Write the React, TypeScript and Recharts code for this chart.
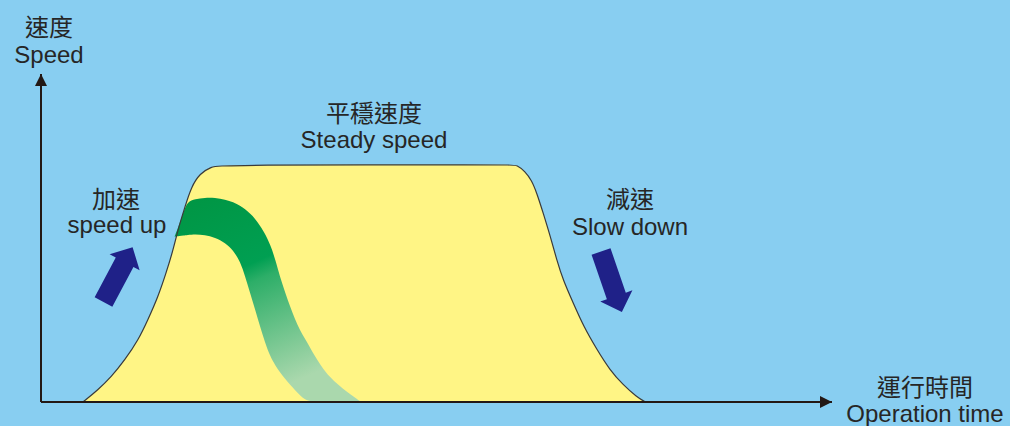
import { ComposedChart, Area, Line, XAxis, YAxis, ReferenceLine, ReferenceDot } from 'recharts'

const BG = '#88CEF1'
const YELLOW = '#FFF585'
const NAVY = '#1F2188'
const INK = '#231815'
const FONT = '"Liberation Sans", "Noto Sans CJK TC", sans-serif'

// speed profile: time (% of axis) -> speed (% of axis)
const profileTime = [5.3, 7.2, 8.9, 10.6, 12.3, 13.5, 14.8, 15.8, 16.7, 17.3, 18.2, 19.0, 20.1, 21.5, 22.8, 59.3, 60.2, 61.2, 62.0, 62.7, 63.5, 64.4, 65.2, 66.0, 67.3, 68.6, 70.3, 71.9, 73.6, 75.3, 76.4]
const profileSpeed = [0, 3.7, 7.7, 12.8, 18.9, 25.0, 32.1, 39.2, 46.3, 52.4, 59.5, 65.6, 69.7, 71.7, 72.3, 72.3, 72.3, 70.2, 67.7, 63.6, 57.5, 50.4, 43.3, 37.2, 30.1, 23.0, 15.9, 9.8, 5.2, 1.6, 0]

// green band (lower / upper edge)
const bandTime = [16.9, 17.5, 18.0, 18.5, 19.5, 20.7, 22.0, 23.3, 24.3, 25.2, 25.8, 26.4, 27.1, 27.7, 28.3, 29.0, 29.6, 30.2, 30.9, 31.5, 32.1, 32.7, 33.4, 34.4, 35.4, 36.5, 37.6, 38.7, 39.7, 40.3]
const bandLow = [50.4, 50.6, 50.8, 50.9, 51.2, 50.9, 50.2, 48.5, 46.3, 42.7, 38.4, 33.5, 28.0, 22.9, 18.3, 13.7, 11.3, 9.0, 7.0, 5.2, 3.7, 2.1, 0.6, 0, 0, 0, 0, 0, 0, 0]
const bandHigh = [50.5, 54.3, 57.9, 61.1, 61.9, 62.3, 62.3, 61.7, 61.0, 59.8, 58.8, 57.5, 55.8, 53.7, 51.4, 47.9, 43.6, 38.2, 33.2, 29.0, 25.3, 22.0, 19.2, 14.9, 11.0, 7.6, 5.2, 3.0, 1.4, 0.3]

const labels = [
  { x: 49, y: 36, text: '速度' },
  { x: 49, y: 63, text: 'Speed' },
  { x: 374, y: 122, text: '平穩速度' },
  { x: 374, y: 148, text: 'Steady speed' },
  { x: 116, y: 208, text: '加速' },
  { x: 117, y: 233, text: 'speed up' },
  { x: 630, y: 208, text: '減速' },
  { x: 630, y: 235, text: 'Slow down' },
  { x: 925, y: 396, text: '運行時間' },
  { x: 925, y: 422, text: 'Operation time' },
]

const profile = profileTime.map((t, i) => ({ t, v: profileSpeed[i] }))
const band = bandTime.map((t, i) => ({ t, range: [bandLow[i], bandHigh[i]] }))

const arrowShape = (angle: number, len: number) => (p: any) => {
  const hl = 17, hw = 17, sw = 10
  const pts = [[0, -sw], [len - hl, -sw], [len - hl, -hw], [len, 0], [len - hl, hw], [len - hl, sw], [0, sw]]
  return (
    <polygon
      points={pts.map(q => q.join(',')).join(' ')}
      fill={NAVY}
      transform={`translate(${p.cx},${p.cy}) rotate(${angle})`}
    />
  )
}

const upHead = (p: any) => (
  <polygon points={`${p.cx},${p.cy} ${p.cx - 6},${p.cy + 12} ${p.cx + 6},${p.cy + 12}`} fill={INK} />
)
const rightHead = (p: any) => (
  <polygon points={`${p.cx},${p.cy} ${p.cx - 12},${p.cy - 6} ${p.cx - 12},${p.cy + 6}`} fill={INK} />
)

export default function App() {
  return (
    <div style={{ position: 'absolute', left: 0, top: 0, width: 1010, height: 426, background: BG, overflow: 'hidden' }}>
      <ComposedChart width={1010} height={426} margin={{ top: 74, right: 178, bottom: 24, left: 41 }}>
        <defs>
          <linearGradient id="band" x1="0" y1="0" x2="0.4" y2="1">
            <stop offset="0" stopColor="#009543" />
            <stop offset="0.42" stopColor="#009F52" />
            <stop offset="0.5" stopColor="#2DAE68" />
            <stop offset="1" stopColor="#AAD8AD" />
          </linearGradient>
        </defs>
        <XAxis type="number" dataKey="t" domain={[0, 100]} hide />
        <YAxis type="number" domain={[0, 100]} hide />
        <Area data={profile} dataKey="v" type="basis" fill={YELLOW} fillOpacity={1} stroke="none" isAnimationActive={false} />
        <Area data={band} dataKey="range" type="basis" fill="url(#band)" fillOpacity={1} stroke="none" isAnimationActive={false} />
        <Line data={profile} dataKey="v" type="basis" stroke="#3a3a3a" strokeWidth={1.2} dot={false} isAnimationActive={false} />
        <ReferenceLine x={0} stroke={INK} strokeWidth={2} />
        <ReferenceLine y={0} stroke={INK} strokeWidth={2} />
        <ReferenceDot x={0} y={100} r={0} shape={upHead} />
        <ReferenceDot x={100} y={0} r={0} shape={rightHead} />
        <ReferenceDot x={7.9} y={30.5} r={0} shape={arrowShape(-62, 62)} />
        <ReferenceDot x={70.8} y={45.9} r={0} shape={arrowShape(71, 64)} />
      </ComposedChart>
      <svg width={1010} height={426} style={{ position: 'absolute', left: 0, top: 0, pointerEvents: 'none' }}>
        {labels.map(l => (
          <text key={l.text} x={l.x} y={l.y} textAnchor="middle" fontFamily={FONT} fontSize={24} fill="#262626">
            {l.text}
          </text>
        ))}
      </svg>
    </div>
  )
}
